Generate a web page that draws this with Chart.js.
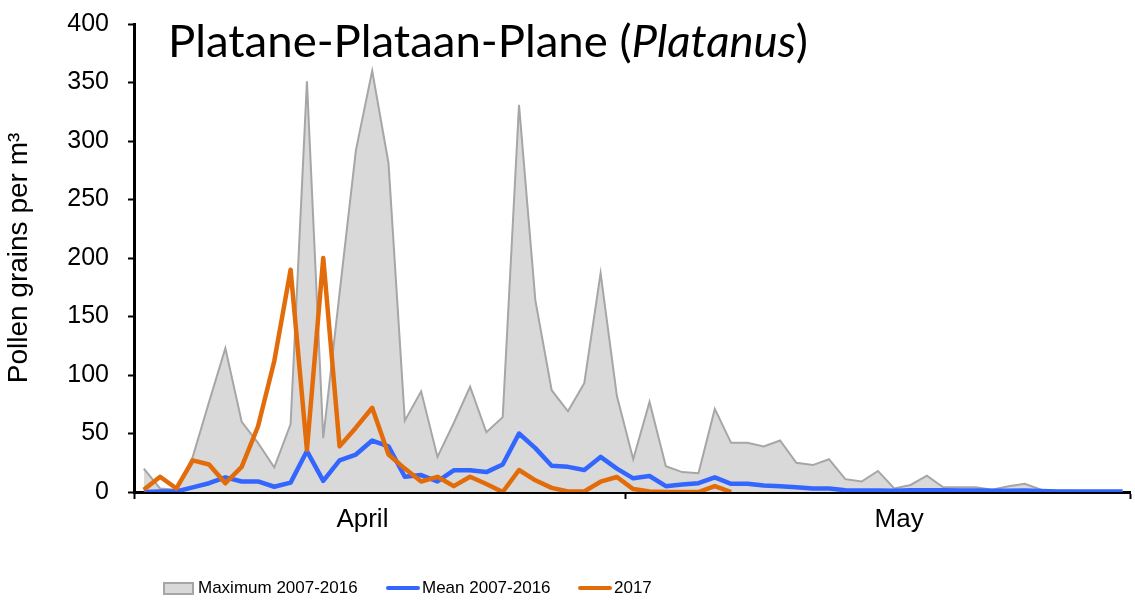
<!DOCTYPE html>
<html><head><meta charset="utf-8">
<script src="https://cdn.jsdelivr.net/npm/chart.js@4.4.1/dist/chart.umd.min.js"></script>
<style>
html,body{margin:0;padding:0;background:#fff;}
#wrap{position:relative;width:1135px;height:603px;overflow:hidden;}
#title{position:absolute;left:168px;top:18px;font-family:Lato,"Open Sans",sans-serif;font-size:44px;line-height:44px;color:#000;white-space:nowrap;transform-origin:0 0;}
#legend{position:absolute;left:0;top:0;width:1135px;height:603px;pointer-events:none;}
.lt{position:absolute;font-family:"Liberation Sans",Arial,sans-serif;font-size:17px;line-height:18px;color:#000;white-space:nowrap;}
.sw{position:absolute;box-sizing:border-box;}
</style>
</head><body>
<div id="wrap">
<canvas id="c" width="1135" height="603"></canvas>
<div id="title">Platane-Plataan-Plane (<i>Platanus</i>)</div>
<div id="legend"></div>
</div>
<script>
const days = ['1 Apr','2 Apr','3 Apr','4 Apr','5 Apr','6 Apr','7 Apr','8 Apr','9 Apr','10 Apr',
'11 Apr','12 Apr','13 Apr','14 Apr','15 Apr','16 Apr','17 Apr','18 Apr','19 Apr','20 Apr',
'21 Apr','22 Apr','23 Apr','24 Apr','25 Apr','26 Apr','27 Apr','28 Apr','29 Apr','30 Apr',
'1 May','2 May','3 May','4 May','5 May','6 May','7 May','8 May','9 May','10 May',
'11 May','12 May','13 May','14 May','15 May','16 May','17 May','18 May','19 May','20 May',
'21 May','22 May','23 May','24 May','25 May','26 May','27 May','28 May','29 May','30 May','31 May'];

const maxSeries = [20,3,2,30,77,123,60,42,21,58,
351,46,170,292,360,281,61,86,30,59,
90,51,64,331,164,87,69,93,187,82,
28,77,22,17,16,71,42,42,39,44,
25,23,28,11,9,18,3,6,14,4,
4,4,2,5,7,2,1,1,0,0,0];

const meanSeries = [0,0.5,0.5,4,7.5,12.5,9,9,4.5,8,
35,9.5,27,32,44,39,13,14.5,9,18.5,
18.5,17,23.5,50,37.5,22.5,21.5,18.8,30,20,
11.7,13.7,5,6.5,7.5,12.5,7,7,5.5,5,
4,3,3,1.5,1.2,1.2,1,1.5,1.5,1.5,
1.2,1.2,1,1,1.2,0.8,0.5,0.5,0.5,0.5,0.5];

const series2017 = [2,13,3,27,23.5,7.5,21.5,56,112,190,
36,200,39,55,72,32,20,9,13,5,
13,6.8,0,18.8,10,3.5,0.5,0.5,8.8,12.8,
2.5,0.5,0,0,0,5,0,null,null,null,
null,null,null,null,null,null,null,null,null,null,
null,null,null,null,null,null,null,null,null,null,null];

const seriesNames = ['Maximum 2007-2016','Mean 2007-2016','2017'];
const xTickValues = [-0.6, 13.4, 29.5, 46.3, 60.45];
const xTickLabels = ['', 'April', '', 'May', ''];
const yTickMin = 0, yTickMax = 400, yTickStep = 50;

const toXY = arr => arr.map((v,i) => ({x:i, y:v}));

new Chart(document.getElementById('c'), {
  type:'line',
  data:{
    labels: days,
    datasets:[
      {label:seriesNames[0], data:toXY(maxSeries), fill:'origin', backgroundColor:'#d9d9d9',
       borderColor:'#a6a6a6', borderWidth:2, pointRadius:0, tension:0, order:3},
      {label:seriesNames[1], data:toXY(meanSeries), fill:false, borderColor:'#3366ff',
       borderWidth:4.5, pointRadius:0, tension:0, order:2, borderJoinStyle:'round'},
      {label:seriesNames[2], data:toXY(series2017), fill:false, borderColor:'#e36c0a',
       borderWidth:4.5, pointRadius:0, tension:0, order:1, spanGaps:false, borderJoinStyle:'round'}
    ]
  },
  options:{
    responsive:false, animation:false,
    layout:{padding:{left:0,right:5,top:24,bottom:0}},
    plugins:{legend:{display:false}, tooltip:{enabled:false}, title:{display:false}},
    scales:{
      x:{type:'linear', min:-0.6, max:60.45,
         afterBuildTicks: s => { s.ticks = xTickValues.map(v => ({value:v})); },
         afterFit: s => { s.height = 111; },
         ticks:{autoSkip:false, maxRotation:0, padding:5, color:'#000',
                font:{family:'"Liberation Sans", Arial, sans-serif', size:26},
                callback:(v,i) => xTickLabels[i]},
         grid:{drawOnChartArea:false, drawTicks:true, tickLength:7, tickWidth:2,
               tickColor: ctx => (ctx.tick && ctx.tick.label) ? 'rgba(0,0,0,0)' : '#000'},
         border:{display:true, color:'#000', width:3}
      },
      y:{min:yTickMin, max:yTickMax,
         afterFit: s => { s.width = 134; },
         ticks:{stepSize:yTickStep, padding:19, color:'#000',
                font:{family:'"Liberation Sans", Arial, sans-serif', size:25, lineHeight:0.2}},
         grid:{drawOnChartArea:false, drawTicks:true, tickLength:6, tickWidth:2, tickColor:'#000'},
         border:{display:true, color:'#000', width:3},
         title:{display:true, text:'Pollen grains per m³', color:'#000',
                font:{family:'"Liberation Sans", Arial, sans-serif', size:28}, padding:{top:2,bottom:0}}
      }
    }
  }
});

// title width fit
const t = document.getElementById('title');
const w = t.getBoundingClientRect().width;
t.style.transform = 'scaleX(' + (640 / w) + ')';

// legend
const leg = document.getElementById('legend');
const items = [
  {name:seriesNames[0], kind:'box', sx:163, tx:198},
  {name:seriesNames[1], kind:'line', color:'#3366ff', sx:386, tx:422},
  {name:seriesNames[2], kind:'line', color:'#e36c0a', sx:578, tx:614}
];
items.forEach(it => {
  const sw = document.createElement('div'); sw.className = 'sw';
  if (it.kind === 'box') {
    Object.assign(sw.style, {left:it.sx+'px', top:'582px', width:'31px', height:'13px',
      background:'#d9d9d9', border:'2px solid #a6a6a6'});
  } else {
    Object.assign(sw.style, {left:it.sx+'px', top:'586px', width:'34px', height:'4px',
      background:it.color, borderRadius:'2px'});
  }
  leg.appendChild(sw);
  const tx = document.createElement('div'); tx.className = 'lt';
  tx.textContent = it.name;
  Object.assign(tx.style, {left:it.tx+'px', top:'579px'});
  leg.appendChild(tx);
});
</script>
</body></html>
